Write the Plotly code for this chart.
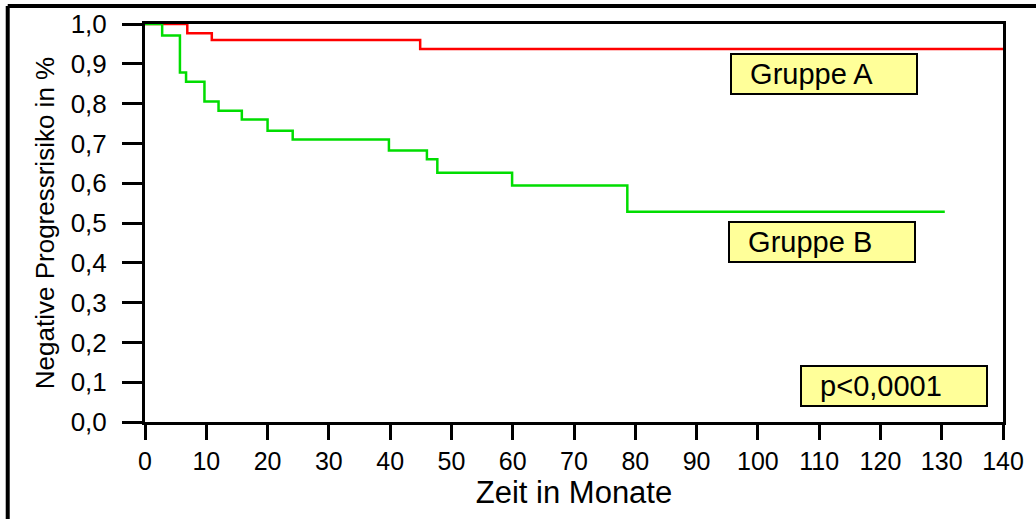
import plotly.graph_objects as go

# Kaplan-Meier step data
months_a = [0, 6.9, 10.9, 44.9, 140]
surv_a = [1.0, 0.977, 0.960, 0.937, 0.937]

months_b = [0, 2.8, 5.7, 6.7, 9.7, 12.0, 15.8, 20.0, 24.1, 39.8, 46.0, 47.7, 59.9, 78.7, 130.5]
surv_b = [1.0, 0.971, 0.878, 0.855, 0.805, 0.782, 0.760, 0.732, 0.710, 0.682, 0.660, 0.626, 0.594, 0.528, 0.528]

x_ticks = list(range(0, 141, 10))
y_ticks = [i / 10 for i in range(0, 11)]

labels = [("Gruppe A", 110.8, 0.874), ("Gruppe B", 110.4, 0.452), ("p<0,0001", 122.2, 0.090)]

FONT = "Liberation Sans, Arial, sans-serif"

fig = go.Figure()
fig.add_trace(go.Scatter(x=months_a, y=surv_a, mode="lines", line=dict(color="#FF0000", width=2.5, shape="hv"),
                         name="Gruppe A", showlegend=False))
fig.add_trace(go.Scatter(x=months_b, y=surv_b, mode="lines", line=dict(color="#00DD00", width=2.5, shape="hv"),
                         name="Gruppe B", showlegend=False))

for txt, xx, yy in labels:
    fig.add_annotation(x=xx, y=yy, xref="x", yref="y", text="&nbsp;&nbsp;" + txt.replace("<", "&lt;"),
                       showarrow=False,
                       font=dict(family=FONT, size=29, color="black"),
                       bgcolor="#FFFF99", bordercolor="black", borderwidth=2,
                       width=180, height=34, borderpad=2, align="left",
                       xanchor="center", yanchor="middle")

# outer frame (top and left edges visible in the reference)
fig.add_shape(type="line", xref="paper", yref="paper", x0=-0.160, x1=1.05, y0=1.045, y1=1.045,
              line=dict(color="black", width=4))
fig.add_shape(type="line", xref="paper", yref="paper", x0=-0.160, x1=-0.160, y0=1.045, y1=-0.3,
              line=dict(color="black", width=4))

fig.update_layout(
    width=1036, height=519,
    margin=dict(l=145, r=33, t=24, b=97),
    paper_bgcolor="white", plot_bgcolor="white",
    separators=",.",
    font=dict(family=FONT, color="black"),
    showlegend=False,
)
fig.update_xaxes(range=[0, 140], tickvals=x_ticks, ticks="outside", ticklen=15, tickwidth=3, tickcolor="black",
                 showline=True, linewidth=3, linecolor="black", mirror=True, showgrid=False, zeroline=False,
                 tickfont=dict(size=25, family=FONT), automargin=False,
                 title=dict(text="Zeit in Monate", font=dict(size=31, family=FONT), standoff=0))
fig.update_yaxes(range=[0, 1.0], tickvals=y_ticks, tickformat=".1f", ticks="outside", ticklen=20, tickwidth=3,
                 tickcolor="black", showline=True, linewidth=3, linecolor="black", mirror=True, showgrid=False,
                 zeroline=False, tickfont=dict(size=26, family=FONT), automargin=False, ticklabelstandoff=10,
                 title=dict(text="Negative Progressrisiko in %", font=dict(size=26, family=FONT), standoff=9))

fig.write_html("out.html", config={"displayModeBar": False},
               post_script="document.body.style.margin='0';document.body.style.overflow='hidden';")
